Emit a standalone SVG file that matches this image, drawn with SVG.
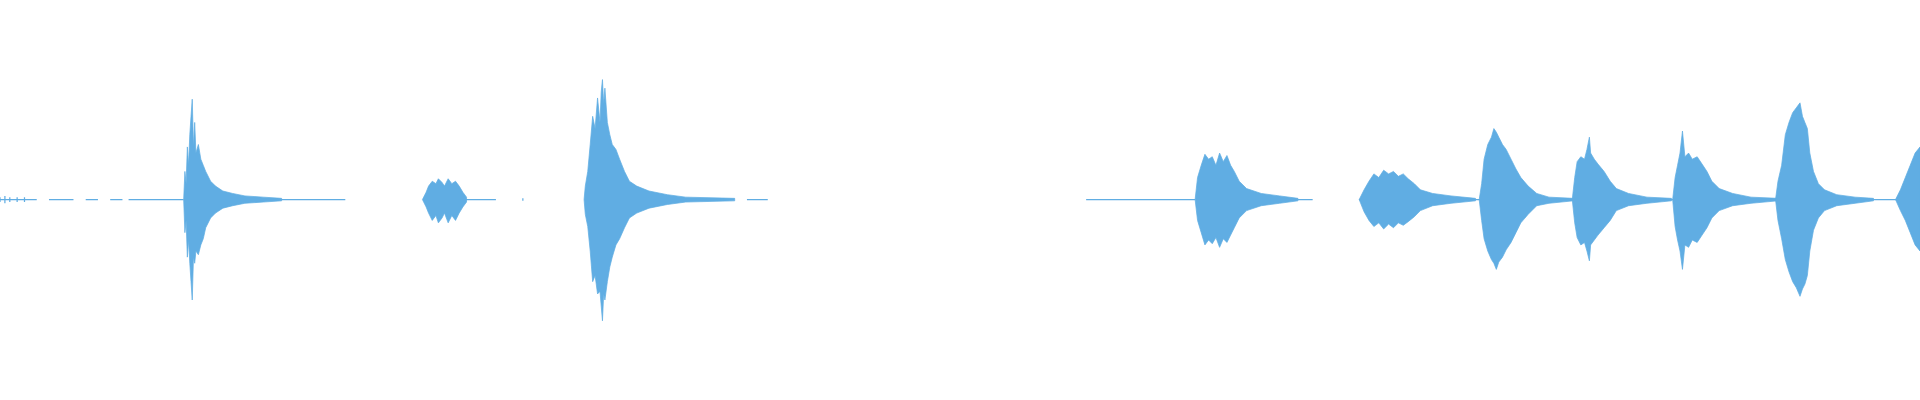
<svg xmlns="http://www.w3.org/2000/svg" width="1920" height="400" viewBox="0 0 1920 400">
<style>.w{fill:#60ade3;stroke:#60ade3;stroke-width:0.6}.b{fill:none;stroke:#60ade3;stroke-width:1}</style>
<rect width="1920" height="400" fill="#fff"/>
<g transform="scale(1.2245)">
<path class="b" d="M0 163H30M40 163H60M70 163H80M90 163H100M105 163H150M170 163H282M405 163H402M380 163H402M610 163H627M887 163H976M1060 163H1072M1110 163H1120M1150 163H1215M1245 163H1290M1320 163H1370M1400 163H1455M1490 163H1555"/>
<path class="b" d="M0 161V165M4 160V166M8 161V165M14 161V165M20 161V165M427 162V164"/>
<path class="w" d="M150 163L151 140 152 150 153 120 154 135 155 110 156 95 157 81 158 120 159 100 160 125 162 118 164 130 166 135 168 140 172 148 176 152 182 156 190 158 200 160 215 161 230 162 230 164 215 165 200 166 190 168 182 170 176 174 172 178 168 186 166 195 164 200 162 208 160 205 159 215 158 210 157 245 156 230 155 215 154 196 153 210 152 180 151 190Z"/>
<path class="w" d="M345 163L348 157 350 152 353 148 356 150 358 146 361 149 363 152 366 146 369 150 372 148 375 152 378 157 381 161 381 165 378 169 375 174 372 180 369 176 366 182 363 174 361 178 358 182 356 176 353 180 350 174 348 169Z"/>
<path class="w" d="M477 163L478 152 480 140 482 118 484 95 486 105 488 80 490 100 491 75 492 65 493 85 494 72 496 100 498 110 500 118 503 122 506 130 510 140 514 148 520 152 530 156 545 159 560 161 600 162 600 164 560 165 545 167 530 170 520 174 514 178 510 186 506 195 503 200 500 210 498 218 496 230 494 245 493 240 492 262 491 250 490 238 488 240 486 225 484 230 482 205 480 185 478 175Z"/>
<path class="w" d="M976 163L978 145 981 135 984 126 987 130 990 128 993 135 996 125 999 132 1002 127 1005 135 1008 140 1012 148 1018 154 1030 158 1045 160 1060 162 1060 164 1045 166 1030 168 1018 172 1012 178 1008 186 1005 192 1002 198 999 195 996 202 993 194 990 199 987 196 984 200 981 190 978 180Z"/>
<path class="w" d="M1110 163L1114 155 1118 148 1122 142 1126 145 1130 139 1134 142 1138 140 1142 144 1146 142 1150 146 1155 150 1160 155 1170 158 1185 160 1205 162 1205 164 1185 166 1170 168 1160 172 1155 177 1150 181 1146 184 1142 182 1138 186 1134 183 1130 187 1126 182 1122 185 1118 180 1114 173Z"/>
<path class="w" d="M1208 163L1210 150 1212 130 1215 118 1218 112 1220 105 1222 108 1224 112 1227 118 1230 122 1234 130 1238 138 1242 145 1248 152 1255 158 1265 161 1285 162 1285 164 1265 166 1255 168 1248 175 1242 182 1238 190 1234 198 1230 204 1227 210 1224 214 1222 220 1220 215 1218 212 1215 205 1212 195 1210 180Z"/>
<path class="w" d="M1284 163L1286 145 1288 132 1291 128 1294 130 1296 122 1298 112 1299 125 1302 130 1305 134 1310 140 1315 148 1320 154 1330 158 1345 161 1365 162 1365 164 1345 166 1330 168 1320 172 1315 180 1310 186 1305 192 1302 196 1299 200 1298 213 1296 205 1294 198 1291 200 1288 194 1286 182Z"/>
<path class="w" d="M1366 163L1368 145 1370 135 1372 125 1374 107 1376 128 1379 125 1382 130 1386 128 1390 134 1394 140 1398 148 1404 154 1415 158 1430 161 1452 162 1452 164 1430 166 1415 168 1404 172 1398 178 1394 186 1390 192 1386 198 1382 196 1379 202 1376 200 1374 220 1372 205 1370 196 1368 185Z"/>
<path class="w" d="M1450 163L1452 148 1455 135 1458 110 1461 100 1464 92 1467 88 1470 84 1472 95 1474 100 1476 105 1478 125 1481 140 1485 150 1490 155 1500 159 1515 161 1530 162 1530 164 1515 166 1500 168 1490 172 1485 178 1481 188 1478 205 1476 225 1474 232 1472 236 1470 242 1467 235 1464 230 1461 222 1458 212 1455 195 1452 180Z"/>
<path class="w" d="M1548 163L1552 155 1556 145 1560 135 1564 125 1568 120 1568 205 1564 200 1560 190 1556 180 1552 172Z"/>
</g>
</svg>
